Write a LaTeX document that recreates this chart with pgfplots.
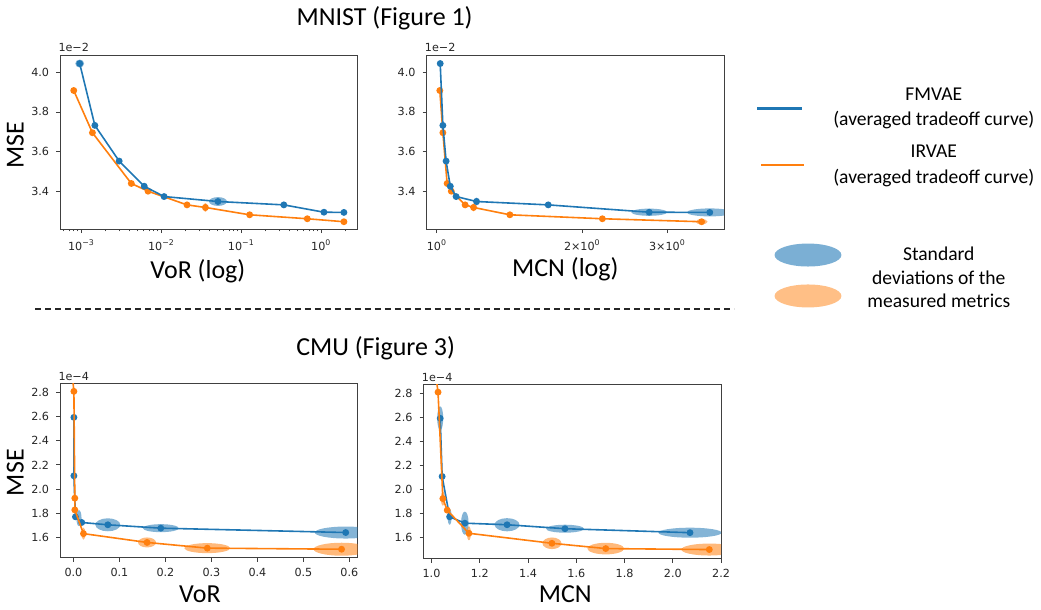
\documentclass[border=0pt]{standalone}
\usepackage{fontspec}
\setmainfont{Carlito}
\newfontfamily\dejavu{DejaVu Sans}
\usepackage{pgfplots}
\pgfplotsset{compat=1.18}
\definecolor{fmblue}{HTML}{1F77B4}
\definecolor{irorange}{HTML}{FF7F0E}
\definecolor{legblue}{HTML}{7BAFD4}
\definecolor{legorange}{HTML}{FFBF86}
\newcommand\tickfont{\dejavu\fontsize{5.6}{6.5}\selectfont}
\newcommand\labfont{\fontsize{13}{15}\selectfont}

\pgfplotsset{
  panel/.style={scale only axis, width=149pt, height=87pt, anchor=south west,
    tick align=outside, tick pos=left, major tick length=2pt, minor tick length=1.2pt,
    axis line style={black!75, line width=0.4pt},
    tick style={black!75, line width=0.4pt},
    tick label style={font=\tickfont, text=black!85},
    scaled ticks=false, clip marker paths=true,
    yticklabel style={/pgf/number format/.cd, fixed, fixed zerofill, precision=1, assume math mode=true}},
  curve/.style={#1, line width=0.8pt, mark=*, mark size=1.3pt, mark options={solid, fill=#1, draw=#1}},
  sdev/.style={only marks, mark=*, mark size=1pt, scatter,
    scatter/use mapped color={draw=#1, draw opacity=0, fill=#1, fill opacity=0.55},
    visualization depends on={\thisrow{rx}\as\rx},
    visualization depends on={\thisrow{ry}\as\ry},
    scatter/@pre marker code/.append style={/tikz/xscale=\rx, /tikz/yscale=\ry}},
}

\begin{document}
\begin{tikzpicture}
\path (0pt,0pt) rectangle (520.5pt,303pt);

% MNIST, VoR
\begin{axis}[panel, name=a1, at={(30pt,189pt)}, xmode=log,
  xmin=5.4e-4, xmax=2.85, ymin=3.209, ymax=4.0855,
  xtick={0.001,0.01,0.1,1},
  xticklabels={10\textsuperscript{−3},10\textsuperscript{−2},10\textsuperscript{−1},10\textsuperscript{0}},
  minor xtick={6e-4,7e-4,8e-4,9e-4,0.002,0.003,0.004,0.005,0.006,0.007,0.008,0.009,
    0.02,0.03,0.04,0.05,0.06,0.07,0.08,0.09,0.2,0.3,0.4,0.5,0.6,0.7,0.8,0.9,2},
  ytick={3.4,3.6,3.8,4.0}]
\addplot[sdev=fmblue] table {
x y rx ry
9.5e-4 4.044 2.2 2.0
0.051 3.348 4.5 2.2
};
\addplot[sdev=irorange] table {
x y rx ry
0.0355 3.318 1.2 2.2
};
\addplot[curve=irorange] table {
8.0e-4 3.908
1.37e-3 3.695
4.2e-3 3.439
6.8e-3 3.400
0.0209 3.331
0.0355 3.318
0.127 3.281
0.668 3.261
1.92 3.246
};
\addplot[curve=fmblue] table {
9.5e-4 4.044
1.47e-3 3.732
2.96e-3 3.552
6.1e-3 3.425
0.0108 3.373
0.051 3.348
0.34 3.331
1.08 3.294
1.92 3.293
};
\end{axis}

% MNIST, MCN
\begin{axis}[panel, name=a2, at={(213.5pt,189pt)}, xmode=log,
  xmin=0.952, xmax=3.93, ymin=3.209, ymax=4.0855,
  xtick={1,2,3},
  xticklabels={10\textsuperscript{0},2×10\textsuperscript{0},3×10\textsuperscript{0}},
  minor xtick={},
  ytick={3.4,3.6,3.8,4.0}]
\addplot[sdev=fmblue] table {
x y rx ry
1.016 4.044 1.2 1.5
1.208 3.348 1.5 2.0
2.75 3.294 9.0 1.8
3.67 3.293 11.5 2.0
};
\addplot[sdev=irorange] table {
x y rx ry
1.191 3.318 1.0 2.0
3.53 3.246 3.0 1.3
};
\addplot[curve=irorange] table {
1.014 3.908
1.029 3.695
1.050 3.439
1.071 3.400
1.144 3.331
1.191 3.318
1.416 3.281
2.20 3.261
3.53 3.246
};
\addplot[curve=fmblue] table {
1.016 4.044
1.029 3.732
1.045 3.552
1.066 3.425
1.096 3.373
1.208 3.348
1.70 3.331
2.75 3.294
3.67 3.293
};
\end{axis}

% CMU, VoR
\begin{axis}[panel, name=a3, at={(30pt,24.5pt)},
  xmin=-0.029, xmax=0.618, ymin=1.434, ymax=2.87,
  xtick={0,0.1,0.2,0.3,0.4,0.5,0.6},
  xticklabel style={/pgf/number format/.cd, fixed, fixed zerofill, precision=1, assume math mode=true},
  ytick={1.6,1.8,2.0,2.2,2.4,2.6,2.8}]
\addplot[sdev=fmblue] table {
x y rx ry
0.012 1.76 1.3 4.0
0.0748 1.705 6.25 3.25
0.19 1.677 9.0 2.0
0.592 1.641 15.5 3.0
};
\addplot[sdev=irorange] table {
x y rx ry
0.0218 1.632 1.0 3.0
0.16 1.559 4.5 2.5
0.291 1.512 11.5 2.5
0.583 1.503 14.0 3.25
};
\addplot[curve=fmblue] table {
0.001 2.593
0.001 2.110
0.0044 1.771
0.018 1.724
0.0748 1.705
0.19 1.677
0.592 1.641
};
\addplot[curve=irorange] table {
-0.004 3.0
0.001 2.808
0.003 1.925
0.003 1.828
0.0218 1.632
0.16 1.559
0.291 1.512
0.583 1.503
};
\end{axis}

% CMU, MCN
\begin{axis}[panel, name=a4, at={(212pt,24pt)},
  xmin=0.967, xmax=2.2, ymin=1.426, ymax=2.869,
  xtick={1.0,1.2,1.4,1.6,1.8,2.0,2.2},
  xticklabel style={/pgf/number format/.cd, fixed, fixed zerofill, precision=1, assume math mode=true},
  ytick={1.6,1.8,2.0,2.2,2.4,2.6,2.8}]
\addplot[sdev=fmblue] table {
x y rx ry
1.036 2.591 1.5 6.0
1.075 1.773 1.0 4.0
1.138 1.720 1.9 5.8
1.313 1.707 6.25 3.3
1.553 1.674 9.5 2.0
2.071 1.641 15.8 2.5
};
\addplot[sdev=irorange] table {
x y rx ry
1.047 1.924 1.0 3.5
1.155 1.636 1.0 3.5
1.499 1.553 4.75 2.9
1.722 1.509 9.2 2.9
2.151 1.501 14.0 3.0
};
\addplot[curve=fmblue] table {
1.036 2.591
1.044 2.108
1.075 1.773
1.138 1.720
1.313 1.707
1.553 1.674
2.071 1.641
};
\addplot[curve=irorange] table {
1.014 3.0
1.027 2.808
1.047 1.924
1.065 1.828
1.155 1.636
1.499 1.553
1.722 1.509
2.151 1.501
};
\end{axis}

% exponent labels
\foreach \a/\e in {a1/2,a2/2,a3/4,a4/4}
  \node[anchor=south west, font=\tickfont, text=black!85, inner sep=0pt] at ([xshift=-1pt,yshift=1.5pt]\a.north west) {1e−\e};

% titles and axis labels
\node[font=\labfont] at (192.5pt,294.5pt) {MNIST (Figure 1)};
\node[font=\labfont] at (188pt,129.5pt) {CMU (Figure 3)};
\draw[black!85, line width=0.6pt, dash pattern=on 3pt off 2pt] (17.5pt,149pt) -- (367.5pt,149pt);
\node[font=\labfont, rotate=90] at (7.5pt,231pt) {MSE};
\node[font=\labfont, rotate=90] at (7.5pt,67pt) {MSE};
\node[font=\labfont] at (99pt,168pt) {VoR (log)};
\node[font=\labfont] at (283pt,169pt) {MCN (log)};
\node[font=\labfont] at (100pt,6pt) {VoR};
\node[font=\labfont] at (283pt,6pt) {MCN};

% legend
\draw[fmblue, line width=1.3pt] (379pt,249.5pt) -- (401.5pt,249.5pt);
\node[font=\fontsize{9.8}{12.8}\selectfont, align=center] at (467.5pt,249.5pt) {FMVAE\\(averaged tradeoff curve)};
\draw[irorange, line width=1.3pt] (381pt,221pt) -- (402.5pt,221pt);
\node[font=\fontsize{9.8}{12.8}\selectfont, align=center] at (467.5pt,220.5pt) {IRVAE\\(averaged tradeoff curve)};
\fill[legblue] (404.5pt,176pt) ellipse [x radius=16.75pt, y radius=5.75pt];
\fill[legorange] (404.5pt,155.5pt) ellipse [x radius=16.75pt, y radius=5.75pt];
\node[font=\fontsize{9.8}{11.8}\selectfont, align=center] at (470pt,164.8pt) {Standard\\deviations of the\\measured metrics};
\end{tikzpicture}
\end{document}
